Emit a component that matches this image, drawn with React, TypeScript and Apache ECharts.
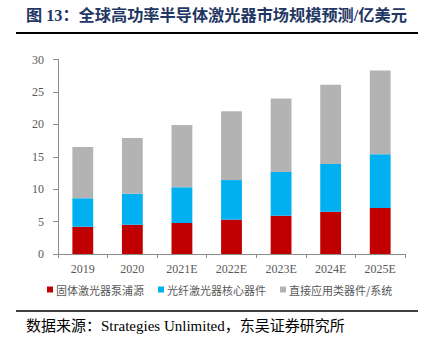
import React, { useEffect, useRef } from "react";
import * as echarts from "echarts";

const categories = ["2019", "2020", "2021E", "2022E", "2023E", "2024E", "2025E"];
const seriesNames = ["固体激光器泵浦源", "光纤激光器核心器件", "直接应用类器件/系统"];
const solidPump = [4.2, 4.5, 4.8, 5.3, 5.9, 6.5, 7.1];
const fiberCore = [4.4, 4.8, 5.5, 6.1, 6.75, 7.4, 8.3];
const directApp = [7.9, 8.6, 9.6, 10.6, 11.35, 12.2, 12.9];
const colors = ["#C00000", "#00B0F0", "#B3B3B3"];
const yTicks = { min: 0, max: 30, interval: 5 };

const titleText = "图 13：全球高功率半导体激光器市场规模预测/亿美元";
const sourceText = "数据来源：Strategies Unlimited，东吴证券研究所";

const serif = "'Liberation Serif', 'Noto Sans CJK SC', serif";

export default function App() {
  const ref = useRef<HTMLDivElement>(null);
  useEffect(() => {
    if (!ref.current) return;
    const chart = echarts.init(ref.current, null, { renderer: "svg" });
    const data = [solidPump, fiberCore, directApp];
    chart.setOption({
      animation: false,
      backgroundColor: "#ffffff",
      color: colors,
      grid: { left: 58, right: 19, top: 59.5, bottom: 96 },
      legend: {
        left: 42,
        top: 279,
        itemWidth: 6,
        itemHeight: 6,
        itemGap: 14,
        icon: "rect",
        textStyle: { fontSize: 11, color: "#595959", fontFamily: "'Noto Sans CJK SC', sans-serif", padding: [0, 0, 0, -2] },
        data: seriesNames,
      },
      xAxis: {
        type: "category",
        data: categories,
        axisLine: { lineStyle: { color: "#8c8c8c", width: 1 } },
        axisTick: { show: true, length: 4, alignWithLabel: false, lineStyle: { color: "#8c8c8c" } },
        axisLabel: { color: "#595959", fontSize: 12, fontFamily: serif, margin: 9 },
      },
      yAxis: {
        type: "value",
        min: yTicks.min,
        max: yTicks.max,
        interval: yTicks.interval,
        splitLine: { show: false },
        axisLine: { show: true, lineStyle: { color: "#8c8c8c", width: 1 } },
        axisTick: { show: true, length: 5, lineStyle: { color: "#8c8c8c" } },
        axisLabel: { color: "#595959", fontSize: 12, fontFamily: serif, margin: 14 },
      },
      series: seriesNames.map((name, i) => ({
        name,
        type: "bar",
        stack: "total",
        barWidth: "42%",
        data: data[i],
        itemStyle: { color: colors[i] },
      })),
      graphic: [
        {
          type: "text",
          left: 26,
          top: 8,
          style: {
            text: titleText,
            fontSize: 16.2,
            fontWeight: "bold",
            fill: "#1f3763",
            fontFamily: serif,
          },
        },
        {
          type: "line",
          shape: { x1: 16, y1: 33, x2: 418, y2: 33 },
          style: { stroke: "#000000", lineWidth: 2 },
        },
        {
          type: "line",
          shape: { x1: 16, y1: 311, x2: 418, y2: 311 },
          style: { stroke: "#000000", lineWidth: 1.5 },
        },
        {
          type: "text",
          left: 26,
          top: 318,
          style: {
            text: sourceText,
            fontSize: 15,
            fill: "#000000",
            fontFamily: serif,
          },
        },
      ],
    });
    return () => chart.dispose();
  }, []);
  return <div ref={ref} style={{ width: 424, height: 350, position: "absolute", left: 0, top: 0 }} />;
}
